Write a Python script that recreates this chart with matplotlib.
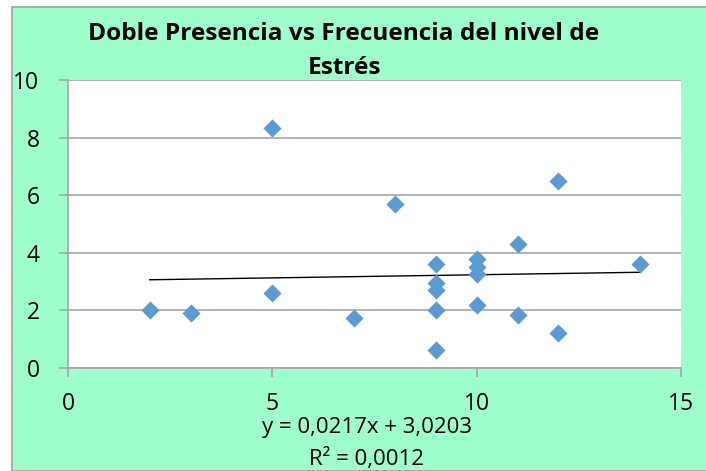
import numpy as np
import matplotlib.pyplot as plt
from matplotlib.patches import Rectangle

# Datos
frecuencia = [2, 3, 5, 5, 7, 8, 9, 9, 9, 9, 9, 10, 10, 10, 10, 11, 11, 12, 12, 14]
doble_presencia = [2.0, 1.9, 8.33, 2.6, 1.73, 5.68, 3.6, 2.95, 2.7, 2.0, 0.62,
                   3.8, 3.5, 3.25, 2.18, 4.32, 1.84, 6.48, 1.2, 3.6]

# Linea de tendencia (coeficientes del grafico)
pendiente = 0.0217
intercepto = 3.0203
r2 = 0.0012

verde = "#9CFFCC"
azul = "#5B9BD5"

plt.rcParams["font.family"] = ["Open Sans", "DejaVu Sans"]

fig = plt.figure(figsize=(7.06, 4.71), dpi=100)
fig.patch.set_facecolor("white")
fig.patches.append(Rectangle((12 / 706, 0), 1, 1 - 7 / 471, transform=fig.transFigure,
                             facecolor=verde, edgecolor="#A0A0A0", linewidth=1.2, zorder=-1))

ax = fig.add_axes([68 / 706, 1 - 368 / 471, (681 - 68) / 706, (368 - 80) / 471])
ax.set_facecolor("white")

ax.scatter(frecuencia, doble_presencia, marker="D", s=85, color=azul, zorder=3, linewidths=0)

xt = np.array([min(frecuencia), max(frecuencia)])
ax.plot(xt, pendiente * xt + intercepto, color="black", linewidth=1, zorder=2)

ax.set_xlim(0, 15)
ax.set_ylim(0, 10)
ax.set_xticks([0, 5, 10, 15])
ax.set_yticks([0, 2, 4, 6, 8, 10])
ax.grid(axis="y", color="#A6A6A6", linewidth=1.2)
ax.set_axisbelow(True)

for s in ["top", "right"]:
    ax.spines[s].set_visible(False)
for s in ["left", "bottom"]:
    ax.spines[s].set_color("#A6A6A6")
    ax.spines[s].set_linewidth(1.2)

ax.tick_params(axis="both", colors="#A6A6A6", labelcolor="black", labelsize=16.5,
               length=6.5, width=1.2, direction="out")
ax.tick_params(axis="x", pad=11)
ax.tick_params(axis="y", pad=14)

fig.text(344 / 706, 1 - 51 / 471, "Doble Presencia vs Frecuencia del nivel de\nEstrés",
         ha="center", va="center", fontsize=17.6, fontweight="bold", linespacing=1.5)

eq = f"y = {pendiente:.4f}x + {intercepto:.4f}".replace(".", ",")
fig.text(367 / 706, 1 - 427 / 471, eq, ha="center", va="center", fontsize=16)
fig.text(366 / 706, 1 - 459 / 471, f"R² = {r2:.4f}".replace(".", ","),
         ha="center", va="center", fontsize=16)

fig.savefig("out.png", dpi=100, facecolor=fig.get_facecolor())
